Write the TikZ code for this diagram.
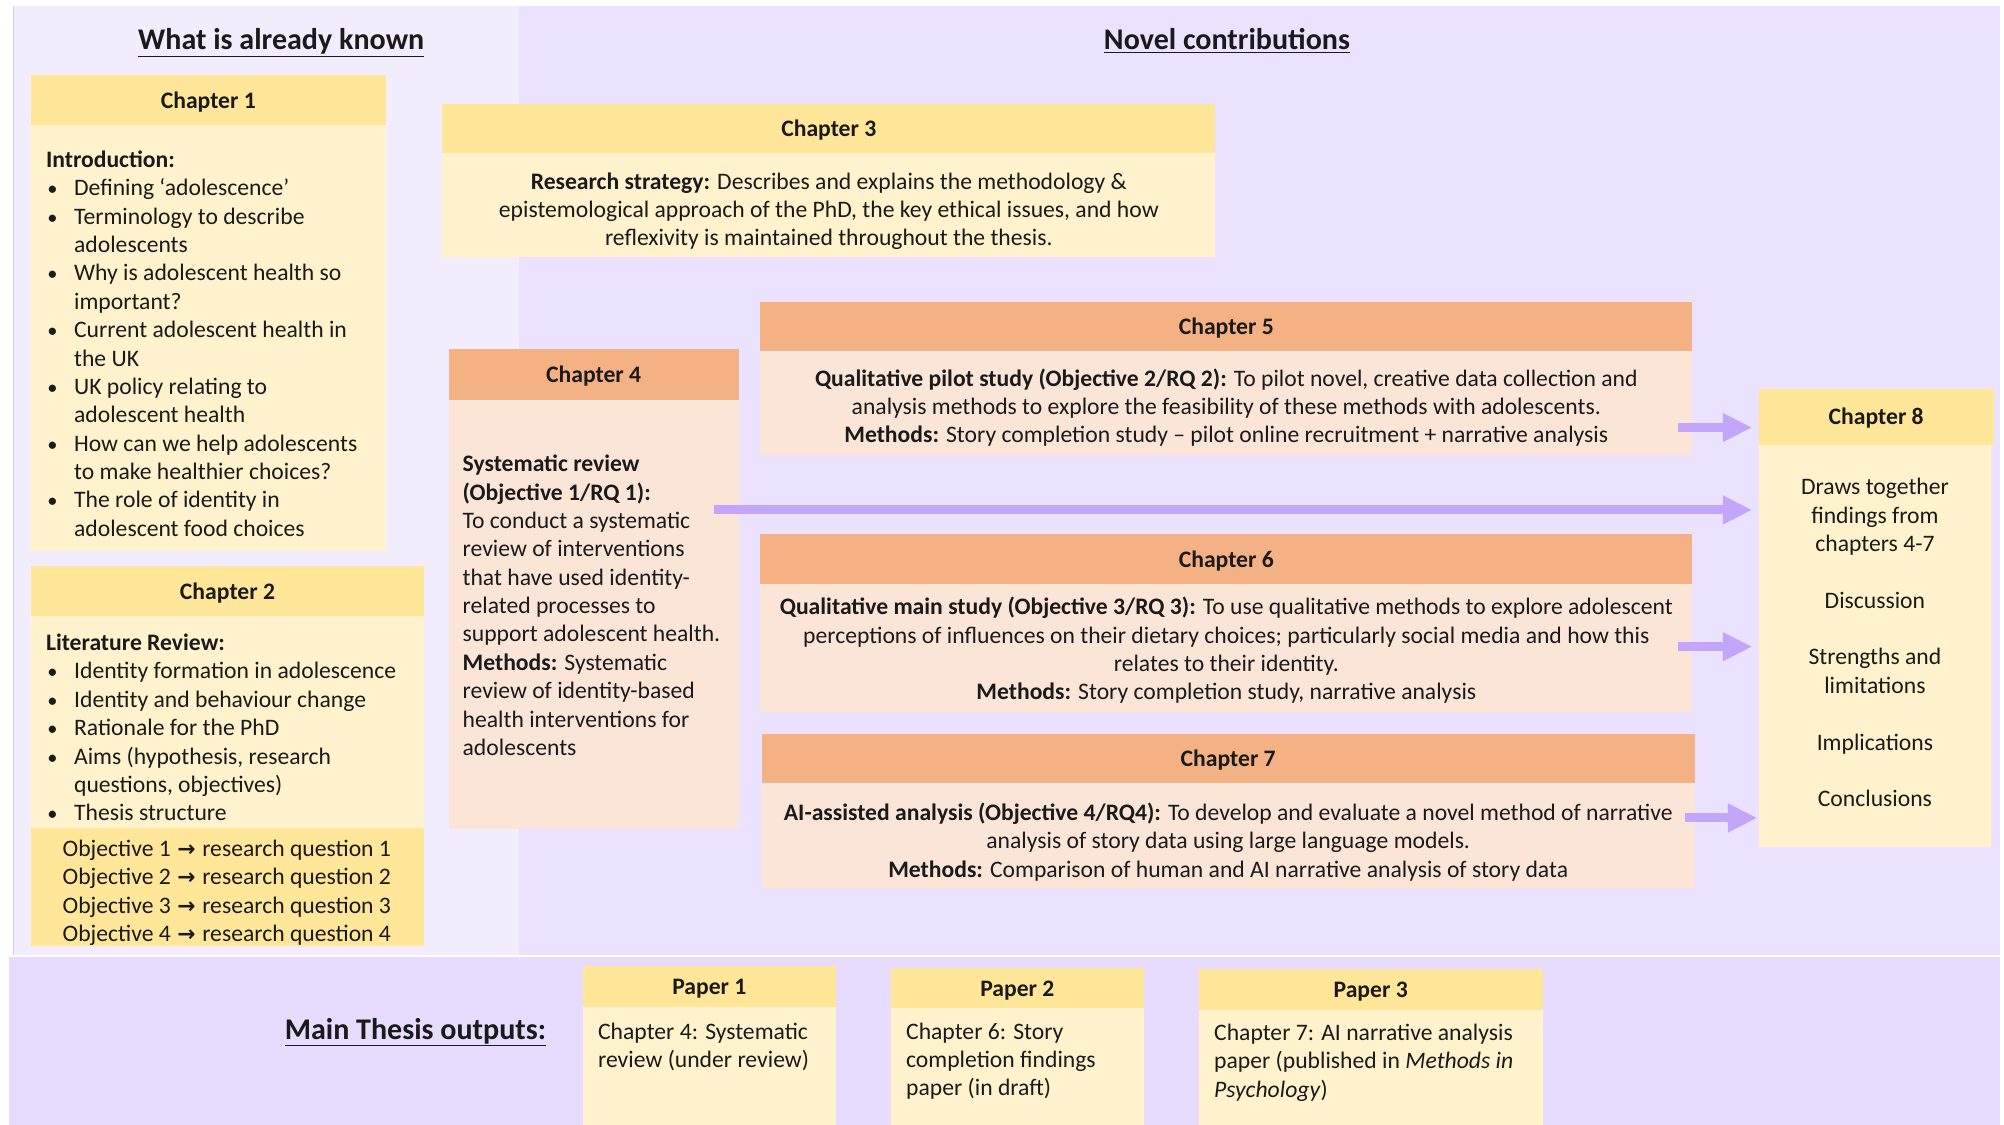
\documentclass[tikz,border=0pt]{standalone}
\usepackage{fontspec}
\setmainfont{Carlito}
\newfontfamily\arrowfont{DejaVu Sans}
\usetikzlibrary{arrows.meta,calc}

\definecolor{leftbg}{HTML}{F1EDFD}
\definecolor{rightbg}{HTML}{EAE2FE}
\definecolor{bottombg}{HTML}{E7DCFD}
\definecolor{leftline}{HTML}{D6D0E6}
\definecolor{yhead}{HTML}{FFE699}
\definecolor{ybody}{HTML}{FFF2CC}
\definecolor{ohead}{HTML}{F4B183}
\definecolor{obody}{HTML}{FBE5D6}
\definecolor{arrowc}{HTML}{C3A5F9}
\definecolor{txt}{HTML}{1A1A1A}

\newcommand\bul{\makebox[22pt][l]{\hspace*{1pt}{\fontsize{16}{22.2}\selectfont\textbullet}}}
\newcommand\cont{\hspace*{22pt}}
\newcommand\rarr{\hspace*{1pt}{\arrowfont\bfseries\fontsize{17}{22.2}\selectfont →}\hspace*{1pt}}

\begin{document}
\begin{tikzpicture}[x=1pt,y=-1pt,
  every node/.style={inner sep=0pt, outer sep=0pt, text=txt},
  fnt/.style={font=\fontsize{18.5}{22.2}\selectfont},
  titlefnt/.style={font=\fontsize{23.5}{28}\selectfont\bfseries},
  hdr/.style={fnt, font=\fontsize{18.5}{22.2}\selectfont\bfseries, anchor=north west, text height=14pt, text depth=1pt},
  yh/.style={hdr, fill=yhead},
  oh/.style={hdr, fill=ohead},
  bodyrect/.style={anchor=north west},
  yb/.style={bodyrect, fill=ybody},
  ob/.style={bodyrect, fill=obody},
  ltext/.style={fnt, align=left, anchor=north west},
  ctext/.style={fnt, align=center, anchor=north},
  blockarrow/.style={draw=arrowc, line width=7pt, -{Triangle[length=23pt,width=21pt]}}
]
\useasboundingbox (0,0) rectangle (1568,880);
\fill[white] (0,0) rectangle (1568,880);

% panels
\fill[leftbg] (10,5) rectangle (406,747.5);
\fill[rightbg] (406,5) rectangle (1565,747.5);
\fill[bottombg] (7,748.5) rectangle (1565,880);
\draw[leftline, line width=1pt] (10.5,5) -- (10.5,747.5);

% titles
\node[titlefnt, anchor=base] (tknown) at (220,39) {\underline{What is already known}};
\node[titlefnt, anchor=base] (tnovel) at (960,39) {\underline{Novel contributions}};
\node[titlefnt, anchor=base] (tout) at (325,813) {\underline{Main Thesis outputs:}};

% Chapter 1
\node[yh, minimum width=278pt, minimum height=39pt] (ch1h) at (24,59) {Chapter 1};
\node[yb, minimum width=278pt, minimum height=333pt] (ch1b) at (24,98) {};
\node[ltext] (ch1t) at (36,115.5) {\strut\textbf{Introduction:}\\
\bul Defining ‘adolescence’\\
\bul Terminology to describe\\
\cont adolescents\\
\bul Why is adolescent health so\\
\cont important?\\
\bul Current adolescent health in\\
\cont the UK\\
\bul UK policy relating to\\
\cont adolescent health\\
\bul How can we help adolescents\\
\cont to make healthier choices?\\
\bul The role of identity in\\
\cont adolescent food choices};

% Chapter 2
\node[yh, minimum width=308pt, minimum height=39pt] (ch2h) at (24,443) {Chapter 2};
\node[yb, minimum width=308pt, minimum height=166pt] (ch2b) at (24,482) {};
\node[bodyrect, fill=yhead, minimum width=308pt, minimum height=92pt] (ch2o) at (24,648) {};
\node[ltext] (ch2t) at (36,493.5) {\strut\textbf{Literature Review:}\\
\bul Identity formation in adolescence\\
\bul Identity and behaviour change\\
\bul Rationale for the PhD\\
\bul Aims (hypothesis, research\\
\cont questions, objectives)\\
\bul Thesis structure};
\node[ltext] (ch2ot) at (49,654.5) {\strut Objective 1 \rarr{} research question 1\\
Objective 2 \rarr{} research question 2\\
Objective 3 \rarr{} research question 3\\
Objective 4 \rarr{} research question 4};

% Chapter 3
\node[yh, minimum width=605pt, minimum height=39pt] (ch3h) at (346,81) {Chapter 3};
\node[yb, minimum width=605pt, minimum height=81pt] (ch3b) at (346,120) {};
\node[ctext] (ch3t) at (648.5,132.5) {\strut\textbf{Research strategy:} Describes and explains the methodology \&\\
epistemological approach of the PhD, the key ethical issues, and how\\
reflexivity is maintained throughout the thesis.};

% Chapter 4
\node[oh, minimum width=227pt, minimum height=40pt] (ch4h) at (351,273) {Chapter 4};
\node[ob, minimum width=227pt, minimum height=336pt] (ch4b) at (351,313) {};
\node[ltext] (ch4t) at (362,353.5) {\strut\textbf{Systematic review}\\
\textbf{(Objective 1/RQ 1):}\\
To conduct a systematic\\
review of interventions\\
that have used identity-\\
related processes to\\
support adolescent health.\\
\textbf{Methods:} Systematic\\
review of identity-based\\
health interventions for\\
adolescents};

% Chapter 5
\node[oh, minimum width=729pt, minimum height=39pt] (ch5h) at (595,236) {Chapter 5};
\node[ob, minimum width=729pt, minimum height=81pt] (ch5b) at (595,275) {};
\node[ctext] (ch5t) at (959.5,286.5) {\strut\textbf{Qualitative pilot study (Objective 2/RQ 2):} To pilot novel, creative data collection and\\
analysis methods to explore the feasibility of these methods with adolescents.\\
\textbf{Methods:} Story completion study – pilot online recruitment + narrative analysis};

% Chapter 6
\node[oh, minimum width=729pt, minimum height=39pt] (ch6h) at (595,418) {Chapter 6};
\node[ob, minimum width=729pt, minimum height=100pt] (ch6b) at (595,457) {};
\node[ctext] (ch6t) at (959.5,465.5) {\strut\textbf{Qualitative main study (Objective 3/RQ 3):} To use qualitative methods to explore adolescent\\
perceptions of influences on their dietary choices; particularly social media and how this\\
relates to their identity.\\
\textbf{Methods:} Story completion study, narrative analysis};

% Chapter 7
\node[oh, minimum width=730pt, minimum height=39pt] (ch7h) at (596,574) {Chapter 7};
\node[ob, minimum width=730pt, minimum height=82pt] (ch7b) at (596,613) {};
\node[ctext] (ch7t) at (961,626.5) {\strut\textbf{AI-assisted analysis (Objective 4/RQ4):} To develop and evaluate a novel method of narrative\\
analysis of story data using large language models.\\
\textbf{Methods:} Comparison of human and AI narrative analysis of story data};

% Chapter 8
\node[yh, minimum width=184pt, minimum height=44pt] (ch8h) at (1376,304) {Chapter 8};
\node[yb, minimum width=182pt, minimum height=315pt] (ch8b) at (1376,348) {};
\node[ctext] (ch8t) at (1467,371.5) {\strut Draws together\\
findings from\\
chapters 4-7\\[22.2pt]
Discussion\\[22.2pt]
Strengths and\\
limitations\\[22.2pt]
Implications\\[22.2pt]
Conclusions};

% arrows
\coordinate (a5s) at (1313,334.5);
\coordinate (a5e) at (1371,334.5);
\coordinate (a4s) at (559,399);
\coordinate (a4e) at (1371,399);
\coordinate (a6s) at (1313,506);
\coordinate (a6e) at (1371,506);
\coordinate (a7s) at (1318,640);
\coordinate (a7e) at (1375,640);
\draw[blockarrow] (a5s) -- (a5e);
\draw[blockarrow] (a4s) -- (a4e);
\draw[blockarrow] (a6s) -- (a6e);
\draw[blockarrow] (a7s) -- (a7e);

% Papers
\node[yh, minimum width=198pt, minimum height=32pt] (p1h) at (456,756) {Paper 1};
\node[yb, minimum width=198pt, minimum height=92pt] (p1b) at (456,788) {};
\node[ltext] (p1t) at (468,797.5) {\strut Chapter 4: Systematic\\
review (under review)};

\node[yh, minimum width=198pt, minimum height=32pt] (p2h) at (697,757) {Paper 2};
\node[yb, minimum width=198pt, minimum height=91pt] (p2b) at (697,789) {};
\node[ltext] (p2t) at (709,797.5) {\strut Chapter 6: Story\\
completion findings\\
paper (in draft)};

\node[yh, minimum width=269pt, minimum height=32pt] (p3h) at (938,758) {Paper 3};
\node[yb, minimum width=269pt, minimum height=90pt] (p3b) at (938,790) {};
\node[ltext] (p3t) at (950,798.5) {\strut Chapter 7: AI narrative analysis\\
paper (published in \textit{Methods in}\\
\textit{Psychology})};
\end{tikzpicture}
\end{document}
